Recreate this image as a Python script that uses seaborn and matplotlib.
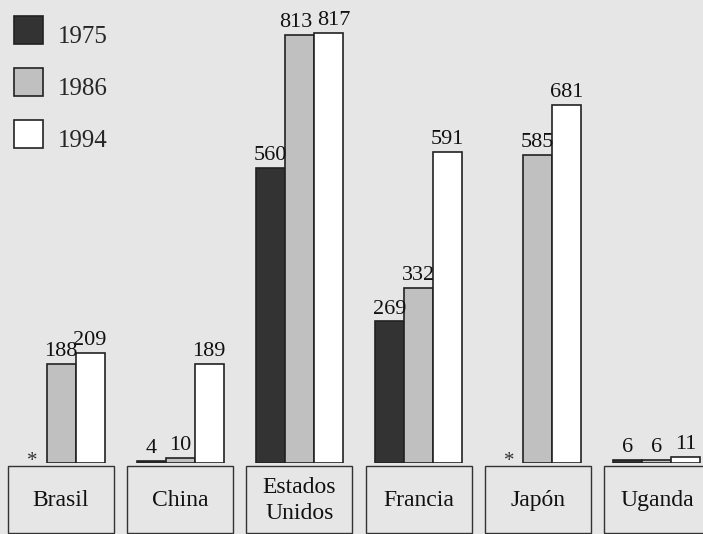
import numpy as np
import pandas as pd
import matplotlib
matplotlib.use("Agg")
import matplotlib.pyplot as plt
from matplotlib.patches import Rectangle
import seaborn as sns

# Data
paises = ["Brasil", "China", "Estados\nUnidos", "Francia", "Japón", "Uganda"]
anios = ["1975", "1986", "1994"]
v1975 = [np.nan, 4, 560, 269, np.nan, 6]
v1986 = [188, 10, 813, 332, 585, 6]
v1994 = [209, 189, 817, 591, 681, 11]

colores = ["#333333", "#c0c0c0", "#ffffff"]
FONDO = "#e6e6e6"
BORDE = "#222222"

sns.set_style("white")
plt.rcParams["font.family"] = ["Liberation Serif", "DejaVu Serif"]

filas = []
for anio, vals in zip(anios, [v1975, v1986, v1994]):
    for p, v in zip(paises, vals):
        filas.append({"pais": p, "anio": anio, "valor": v})
df = pd.DataFrame(filas)

W, H = 703, 534
fig = plt.figure(figsize=(W / 100, H / 100), dpi=100, facecolor=FONDO)

# Bar area
ax = fig.add_axes([0, 71 / H, 1, 1 - 71 / H])
sns.barplot(data=df, x="pais", y="valor", hue="anio", order=paises,
            hue_order=anios, palette=colores, width=0.73, gap=0,
            edgecolor=BORDE, linewidth=1.2, saturation=1, errorbar=None,
            ax=ax)
ax.set_xlim(-0.512, 5.386)
ax.set_ylim(0, 879.7)
ax.set_axis_off()

etiquetas = []
for cont in ax.containers:
    etiquetas.append(ax.bar_label(cont, fmt="%g", padding=2, fontsize=16,
                                  color="#111111"))

# Pull apart the two nearly equal labels of the tallest group
i_max = int(np.argmax(v1994))
etiquetas[1][i_max].xyann = (-2.5, 2)
etiquetas[2][i_max].xyann = (4, 2)

# Asterisk where the 1975 value is missing
cont86 = ax.containers[1]
for i, v in enumerate(v1975):
    if np.isnan(v):
        barra = cont86.patches[i]
        x = barra.get_x() - barra.get_width() / 2
        ax.annotate("*", (x, 0), xytext=(0, -2), textcoords="offset points",
                    ha="center", va="baseline", fontsize=15, color="#333333")

# Legend
handles, labels = ax.get_legend_handles_labels()
leg = ax.legend(handles, labels, loc="upper left",
                bbox_to_anchor=(14 / W, 1 - 16 / H),
                bbox_transform=fig.transFigure,
                frameon=False, fontsize=18, handlelength=1.16,
                handleheight=1.35, handletextpad=0.6, labelspacing=0.95,
                borderpad=0, borderaxespad=0)
for t in leg.get_texts():
    t.set_y(-5)

# Category boxes below the bars
ax2 = fig.add_axes([0, 1 / H, 1, 67 / H], sharex=ax)
ax2.set_ylim(0, 1)
ax2.set_axis_off()
for i, p in enumerate(paises):
    ax2.add_patch(Rectangle((i - 0.445, 0), 0.89, 1, fill=False,
                            edgecolor="#333333", linewidth=1.0, clip_on=False))
    ax2.text(i, 0.48, p, ha="center", va="center", fontsize=17,
             linespacing=1.3, color="#111111")

fig.savefig("out.png", dpi=100, facecolor=FONDO)
